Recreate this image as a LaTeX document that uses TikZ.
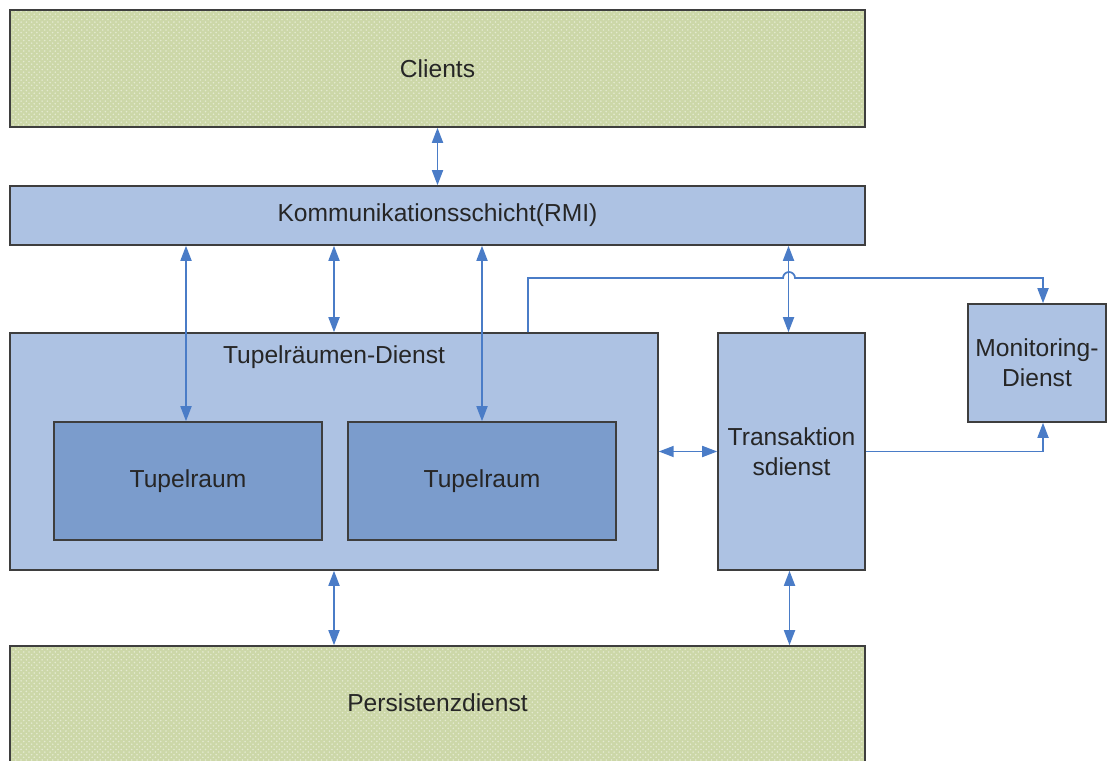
\documentclass[tikz,border=0pt]{standalone}
\usepackage{fontspec}
\setmainfont{Liberation Sans}
\definecolor{bxgreen}{RGB}{204,215,168}
\definecolor{bxdots}{RGB}{228,234,208}
\definecolor{bxblue}{RGB}{173,194,227}
\definecolor{bxdark}{RGB}{123,156,204}
\definecolor{arblue}{RGB}{74,124,199}
\definecolor{bxline}{RGB}{62,62,62}
\usetikzlibrary{arrows.meta,positioning,patterns,calc}

\begin{document}
\begin{tikzpicture}[x=0.02cm,y=-0.02cm,
    font=\fontsize{14}{17}\selectfont,text=black!85,
    layer/.style={draw=bxline,line width=0.9pt,preaction={fill=bxgreen},
                  pattern=crosshatch dots,pattern color=bxdots,
                  minimum width=17.1cm,inner sep=0pt},
    service/.style={draw=bxline,line width=0.9pt,fill=bxblue,align=center,inner sep=0pt},
    space/.style={draw=bxline,line width=0.9pt,fill=bxdark,
                  minimum width=5.36cm,minimum height=2.36cm,inner sep=0pt},
    biarrow/.style={{Triangle[length=0.3cm,width=0.22cm]}-{Triangle[length=0.3cm,width=0.22cm]},
                    arblue,line width=1pt},
    uniarrow/.style={-{Triangle[length=0.3cm,width=0.22cm]},arblue,line width=1pt}]
  \useasboundingbox (0,0) rectangle (1111,760);

  %% Layers
  \node[layer,minimum height=2.34cm] (clients) at (437.5,68.5) {Clients};
  \node[service,minimum width=17.1cm,minimum height=1.18cm] (komm) at (437.5,215.5)
        {Kommunikationsschicht(RMI)};
  \node[layer,minimum height=2.6cm,label={[yshift=0.16cm,text=black!85]center:Persistenzdienst}]
        (pers) at (437.5,711) {};

  %% Services
  \node[service,minimum width=12.96cm,minimum height=4.74cm,
        label={[anchor=north,yshift=-0.14cm,text=black!85]north:Tupelräumen-Dienst}]
        (tpd) at (334,451.5) {};
  \node[space] (tr1) at (188,481) {Tupelraum};
  \node[space] (tr2) at (482,481) {Tupelraum};
  \node[service,minimum width=2.94cm,minimum height=4.74cm] (tx) at (791.5,451.5)
        {Transaktion\\sdienst};
  \node[service,minimum width=2.76cm,minimum height=2.36cm] (mon) at (1037,363)
        {Monitoring-\\Dienst};
  \coordinate (hop) at (789,278);

  %% Connectors
  \draw[biarrow] ([xshift=-0.04cm]tr1.north |- komm.south) -- ([xshift=-0.04cm]tr1.north);
  \draw[biarrow] (clients.south) -- (komm.north);
  \draw[biarrow] (tpd.north |- komm.south) -- (tpd.north);
  \draw[biarrow] (tr2.north |- komm.south) -- (tr2.north);
  \draw[biarrow] ([xshift=-0.06cm]tx.north |- komm.south) -- ([xshift=-0.06cm]tx.north);
  \draw[biarrow] (tpd.east) -- (tx.west);
  \draw[biarrow] (tpd.south) -- (tpd.south |- pers.north);
  \draw[biarrow] ([xshift=-0.04cm]tx.south) -- ([xshift=-0.04cm]tx.south |- pers.north);
  \draw[uniarrow] (tx.east) -| ([xshift=0.12cm]mon.south);
  \draw[uniarrow] ([xshift=3.88cm]tpd.north) |- ([xshift=-0.12cm]hop)
        arc[start angle=180,end angle=0,radius=0.12cm] -| ([xshift=0.12cm]mon.north);
\end{tikzpicture}
\end{document}
